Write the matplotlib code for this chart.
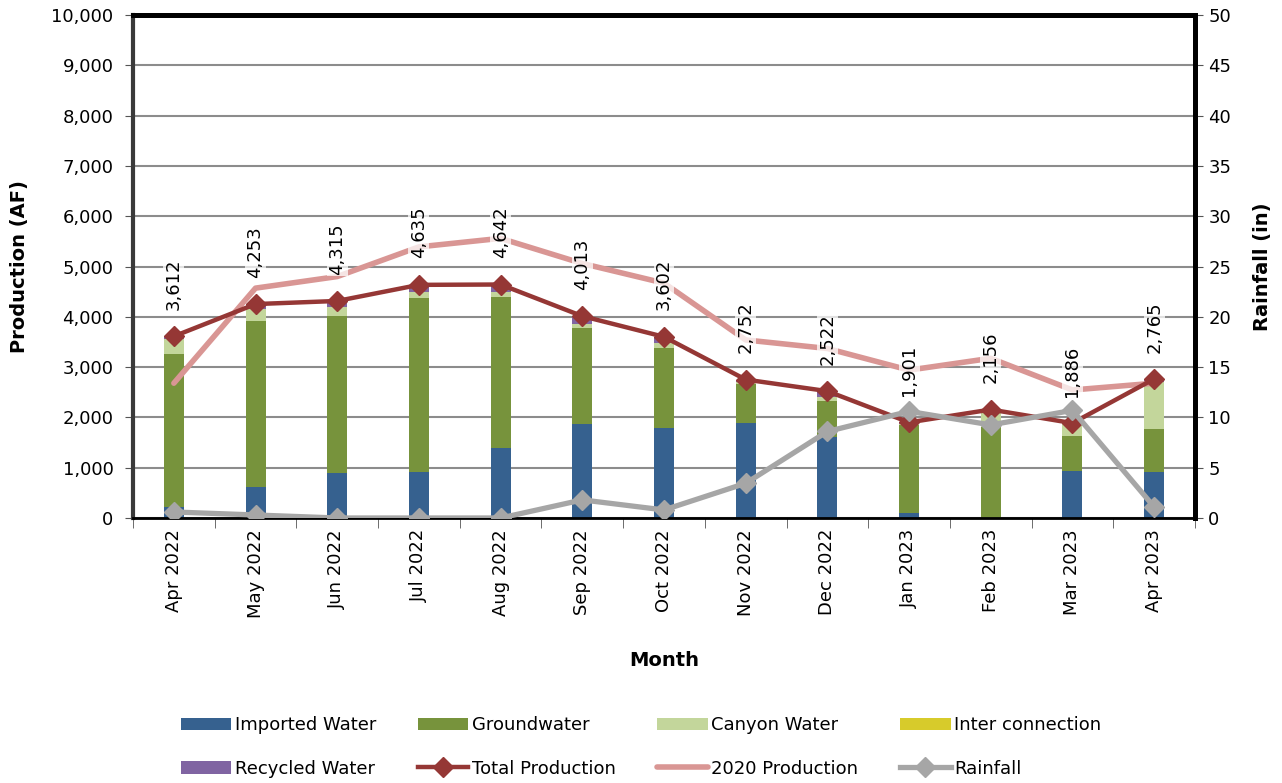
import matplotlib.pyplot as plt
import numpy as np

plt.rcParams['font.family'] = ['DejaVu Sans']

months = ['Apr 2022', 'May 2022', 'Jun 2022', 'Jul 2022', 'Aug 2022', 'Sep 2022',
          'Oct 2022', 'Nov 2022', 'Dec 2022', 'Jan 2023', 'Feb 2023', 'Mar 2023', 'Apr 2023']
imported = [225, 623, 888, 921, 1398, 1862, 1795, 1895, 1617, 93, 0, 940, 921]
groundwater = [3030, 3300, 3134, 3459, 3002, 1921, 1591, 769, 715, 1756, 1815, 690, 848]
canyon = [300, 225, 180, 110, 90, 75, 87, 40, 80, 25, 300, 240, 940]
interconn = [0, 0, 0, 0, 0, 0, 0, 0, 0, 0, 0, 0, 0]
recycled = [57, 105, 113, 145, 152, 155, 129, 48, 110, 27, 41, 16, 56]
total = [3612, 4253, 4315, 4635, 4642, 4013, 3602, 2752, 2522, 1901, 2156, 1886, 2765]
prod2020 = [2680, 4570, 4800, 5390, 5560, 5060, 4670, 3540, 3370, 2940, 3175, 2545, 2680]
rainfall = [0.6, 0.3, 0, 0, 0, 1.8, 0.8, 3.45, 8.6, 10.6, 9.25, 10.7, 1.1]

fig = plt.figure(figsize=(12.82, 7.83), dpi=100)
ax = fig.add_axes([133 / 1282, 1 - 518 / 783, (1195 - 133) / 1282, (518 - 15) / 783])
x = np.arange(len(months))
w = 0.245

handles = []
bottom = np.zeros(len(months))
for vals, col, lab in [(imported, '#36618F', 'Imported Water'),
                       (groundwater, '#77933C', 'Groundwater'),
                       (canyon, '#C3D69B', 'Canyon Water'),
                       (interconn, '#D7CB2B', 'Inter connection'),
                       (recycled, '#8064A2', 'Recycled Water')]:
    b = ax.bar(x, vals, w, bottom=bottom, color=col, label=lab, zorder=2)
    handles.append(b)
    bottom += np.array(vals)

l2020, = ax.plot(x, prod2020, color='#D99694', lw=4, solid_capstyle='round',
                 label='2020 Production', zorder=3)
ltot, = ax.plot(x, total, color='#953735', lw=3.2, marker='D', ms=10,
                label='Total Production', zorder=4)

for xi, t in zip(x, total):
    ax.annotate(f'{t:,}', (xi, t), xytext=(0, 19), textcoords='offset points',
                rotation=90, ha='center', va='bottom', fontsize=13, zorder=5,
                bbox=dict(facecolor='white', alpha=0.75, edgecolor='none', pad=1))

ax.set_xlim(-0.5, len(months) - 0.5)
ax.set_ylim(0, 10000)
ax.set_yticks(range(0, 10001, 1000))
ax.set_yticklabels([f'{v:,}' for v in range(0, 10001, 1000)], fontsize=13)
ax.yaxis.grid(True, color='#8C8C8C', lw=1.5, zorder=0)
ax.set_axisbelow(True)
ax.set_xticks(x)
ax.set_xticklabels(months, rotation=90, fontsize=13)
ax.tick_params(axis='x', length=0, pad=8)
ax.set_xticks(np.arange(-0.5, len(months)), minor=True)
ax.tick_params(axis='x', which='minor', length=7, color='#555555')
ax.tick_params(axis='y', length=6, color='#555555', pad=8)
ax.set_xlabel('Month', fontsize=14, fontweight='bold', labelpad=24)
ax.set_ylabel('Production (AF)', fontsize=14, fontweight='bold', labelpad=16)

ax.spines['left'].set_linewidth(3)
ax.spines['left'].set_color('#3A3A3A')
ax.spines['top'].set_linewidth(3.5)
ax.spines['top'].set_color('black')
ax.spines['right'].set_linewidth(3.5)
ax.spines['bottom'].set_linewidth(2)

ax2 = ax.twinx()
lrain, = ax2.plot(x, rainfall, color='#A6A6A6', lw=3.8, marker='D', ms=10,
                  label='Rainfall', zorder=4)
ax2.set_ylim(0, 50)
ax2.set_yticks(range(0, 51, 5))
ax2.tick_params(axis='y', labelsize=13, length=6, color='#555555')
ax2.set_ylabel('Rainfall (in)', fontsize=14, fontweight='bold', labelpad=16)
ax2.spines['right'].set_linewidth(3.5)
ax2.spines['top'].set_linewidth(3.5)
ax2.spines['left'].set_visible(False)

hs = handles + [ltot, l2020, lrain]
order = [0, 4, 1, 5, 2, 6, 3, 7]
fig.legend([hs[i] for i in order], [hs[i].get_label() for i in order],
           loc='center', bbox_to_anchor=(0.5, 1 - 747 / 783), ncol=4,
           frameon=False, fontsize=13, handlelength=2.8, handletextpad=0.2,
           columnspacing=2.3, labelspacing=1.4)

fig.savefig('out.png', dpi=100)
